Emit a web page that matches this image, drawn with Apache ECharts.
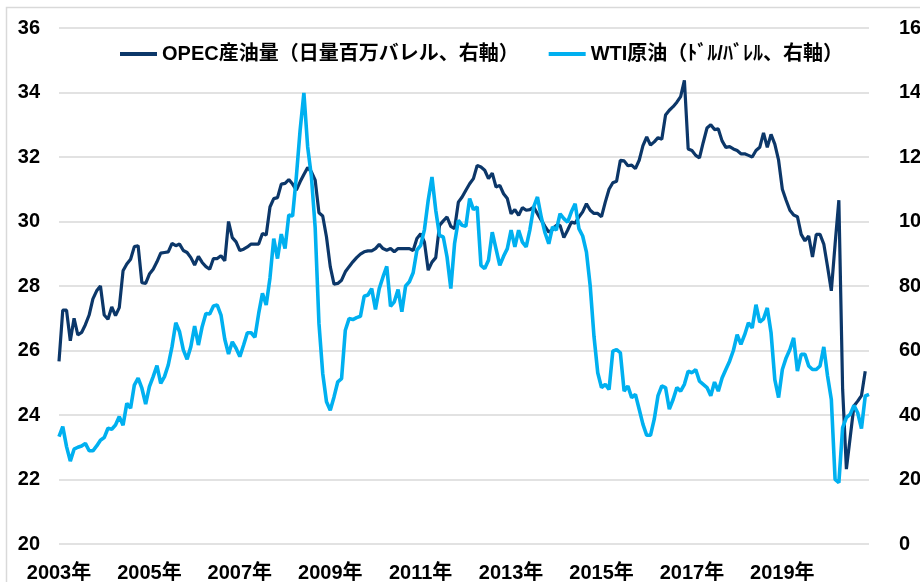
<!DOCTYPE html>
<html>
<head>
<meta charset="utf-8">
<script src="https://cdn.jsdelivr.net/npm/echarts@6/dist/echarts.min.js"></script>
<style>
  html, body { margin: 0; padding: 0; background: #fff; }
  #chart { width: 920px; height: 582px; }
</style>
</head>
<body>
<div id="chart"></div>
<script>
// monthly, 2003-01 .. 2020-12
var firstYear = 2003;
var lastYear = 2020;

// OPEC crude output, million b/d (left axis), ends 2020-11
var opecOutput = [
  25.66, 27.25, 27.25, 26.3, 27.0, 26.48, 26.56, 26.8, 27.1, 27.6, 27.85, 28.0,
  27.1, 26.97, 27.35, 27.08, 27.33, 28.47, 28.68, 28.83, 29.22, 29.25, 28.1, 28.08,
  28.37, 28.52, 28.75, 29.02, 29.04, 29.06, 29.32, 29.25, 29.3, 29.1, 29.04, 28.88,
  28.65, 28.92, 28.73, 28.6, 28.52, 28.85, 28.85, 28.94, 28.78, 30.0, 29.5, 29.37,
  29.1, 29.14, 29.21, 29.3, 29.3, 29.3, 29.63, 29.58, 30.45, 30.71, 30.74, 31.16,
  31.18, 31.3, 31.16, 30.97, 31.23, 31.46, 31.67, 31.54, 31.28, 30.27, 30.17, 29.52,
  28.6, 28.06, 28.08, 28.18, 28.44, 28.6, 28.75, 28.88, 28.99, 29.06, 29.09, 29.09,
  29.16, 29.29, 29.16, 29.11, 29.16, 29.06, 29.16, 29.16, 29.16, 29.16, 29.1, 29.47,
  29.62, 29.36, 28.49, 28.74, 28.88, 29.88, 30.02, 30.14, 29.85, 29.78, 30.6, 30.76,
  30.97, 31.17, 31.33, 31.74, 31.69, 31.59, 31.33, 31.5, 31.07, 31.12, 30.86, 30.71,
  30.24, 30.37, 30.19, 30.43, 30.35, 30.37, 30.45, 30.24, 30.04, 29.85, 29.67, 29.75,
  29.88, 29.88, 29.5, 29.73, 29.98, 29.95, 30.14, 30.3, 30.55, 30.35, 30.25, 30.25,
  30.15, 30.6, 31.0, 31.2, 31.25, 31.9, 31.88, 31.73, 31.75, 31.64, 31.9, 32.35,
  32.62, 32.37, 32.47, 32.6, 32.55, 33.3, 33.45, 33.56, 33.7, 33.87, 34.38, 32.25,
  32.2, 32.05, 31.97, 32.45, 32.9, 33.0, 32.85, 32.87, 32.5, 32.3, 32.32, 32.25,
  32.2, 32.1, 32.1, 32.05, 32.0, 32.2, 32.3, 32.75, 32.3, 32.7, 32.4, 31.9,
  31.0, 30.66, 30.35, 30.2, 30.15, 29.6, 29.4, 29.55, 28.9, 29.6, 29.6, 29.3,
  28.6, 27.85, 29.3, 30.66, 24.8, 22.32, 23.3, 24.28, 24.43, 24.6, 25.36
];

// WTI crude, USD/bbl, month end (right axis)
var wtiPrice = [
  33.3, 36.4, 30.2, 25.7, 29.4, 30.0, 30.4, 31.2, 28.9, 28.9, 30.4, 32.2,
  33.0, 35.9, 35.6, 36.9, 39.5, 36.8, 43.6, 42.1, 49.3, 51.4, 48.3, 43.4,
  48.8, 51.9, 55.3, 49.8, 51.9, 55.5, 61.2, 68.6, 65.8, 60.2, 57.3, 61.2,
  67.6, 61.7, 67.4, 71.5, 71.3, 73.8, 74.1, 71.0, 63.5, 58.9, 62.7, 60.7,
  58.1, 61.7, 65.5, 65.5, 64.1, 71.5, 77.7, 74.1, 82.5, 94.7, 88.5, 96.1,
  91.6, 102.0, 101.7, 113.9, 128.3, 139.9, 123.2, 113.9, 98.0, 68.4, 52.9, 44.1,
  41.5, 45.6, 50.3, 51.3, 66.3, 69.9, 69.6, 70.2, 70.6, 76.8, 77.2, 79.2,
  72.7, 79.2, 82.8, 86.1, 73.7, 75.1, 78.9, 72.0, 80.0, 81.3, 84.1, 91.1,
  92.6, 97.5, 106.6, 113.8, 103.5, 95.7, 95.2, 89.0, 79.2, 93.2, 100.4, 98.8,
  98.5, 107.1, 103.7, 104.5, 86.4, 85.4, 88.0, 96.7, 91.5, 86.4, 89.2, 91.6,
  97.3, 92.1, 97.3, 93.6, 92.1, 97.5, 104.5, 107.6, 101.4, 96.5, 93.1, 98.3,
  97.3, 102.4, 100.9, 99.8, 103.0, 105.5, 97.8, 95.5, 90.5, 80.0, 64.4, 53.1,
  48.5, 49.5, 47.9, 59.8, 60.3, 59.3, 47.4, 49.0, 45.4, 46.4, 41.8, 37.1,
  33.7, 33.7, 38.7, 46.0, 49.0, 48.5, 41.8, 44.8, 48.5, 47.4, 49.5, 53.6,
  53.1, 54.1, 50.5, 49.5, 48.5, 46.0, 50.2, 47.4, 51.5, 54.1, 56.7, 60.0,
  64.9, 61.9, 64.9, 68.6, 67.0, 74.2, 68.8, 69.8, 73.2, 65.5, 51.0, 45.4,
  54.1, 57.7, 60.3, 63.9, 53.6, 58.8, 58.8, 55.2, 54.1, 54.1, 55.2, 61.1,
  52.1, 44.8, 20.0, 19.0, 36.1, 39.2, 40.2, 43.0, 40.7, 35.8, 45.9, 46.4
];

var leftTicks = [20, 36, 2];
var rightTicks = [0, 160, 20];

var months = [];
for (var y = firstYear; y <= lastYear; y++) {
  for (var m = 1; m <= 12; m++) {
    months.push(y + '-' + (m < 10 ? '0' + m : m));
  }
}

var font = "'Liberation Sans', 'Noto Sans CJK JP', sans-serif";

var chart = echarts.init(document.getElementById('chart'));
var option = {
  animation: false,
  backgroundColor: '#fff',
  graphic: [{
    type: 'rect',
    shape: { x: 6.5, y: 7.5, width: 940, height: 620 },
    style: { fill: 'none', stroke: '#d9d9d9', lineWidth: 1.5 },
    silent: true
  }],
  grid: { left: 59, right: 51, top: 28, bottom: 38, outerBoundsMode: 'none' },
  legend: {
    left: 115,
    top: 39,
    itemGap: 30,
    itemWidth: 37,
    itemHeight: 4,
    icon: 'rect',
    textStyle: { fontFamily: font, fontSize: 20, fontWeight: 'bold', color: '#000' },
    data: ['OPEC産油量（日量百万バレル、右軸）', 'WTI原油（ﾄﾞﾙ/ﾊﾞﾚﾙ、右軸）']
  },
  xAxis: {
    type: 'category',
    data: months,
    boundaryGap: false,
    axisLine: { show: false },
    axisTick: { show: false },
    axisLabel: {
      interval: function (idx) { return idx % 24 === 0; },
      formatter: function (v) { return v.slice(0, 4) + '年'; },
      margin: 19,
      fontFamily: font, fontSize: 20, fontWeight: 'bold', color: '#000'
    }
  },
  yAxis: [{
    type: 'value',
    min: leftTicks[0], max: leftTicks[1], interval: leftTicks[2],
    axisLine: { show: false },
    axisTick: { show: false },
    splitLine: { lineStyle: { color: '#d9d9d9', width: 1.5 } },
    axisLabel: { margin: 19, fontFamily: font, fontSize: 20, fontWeight: 'bold', color: '#000' }
  }, {
    type: 'value',
    min: rightTicks[0], max: rightTicks[1], interval: rightTicks[2],
    axisLine: { show: false },
    axisTick: { show: false },
    splitLine: { show: false },
    axisLabel: { margin: 30, fontFamily: font, fontSize: 20, fontWeight: 'bold', color: '#000' }
  }],
  series: [{
    name: 'OPEC産油量（日量百万バレル、右軸）',
    type: 'line',
    yAxisIndex: 0,
    data: opecOutput,
    showSymbol: false,
    color: '#0c3769',
    lineStyle: { width: 3.2, color: '#0c3769' }
  }, {
    name: 'WTI原油（ﾄﾞﾙ/ﾊﾞﾚﾙ、右軸）',
    type: 'line',
    yAxisIndex: 1,
    data: wtiPrice,
    showSymbol: false,
    color: '#00b0f0',
    lineStyle: { width: 3.6, color: '#00b0f0' }
  }]
};
chart.setOption(option);
</script>
</body>
</html>
